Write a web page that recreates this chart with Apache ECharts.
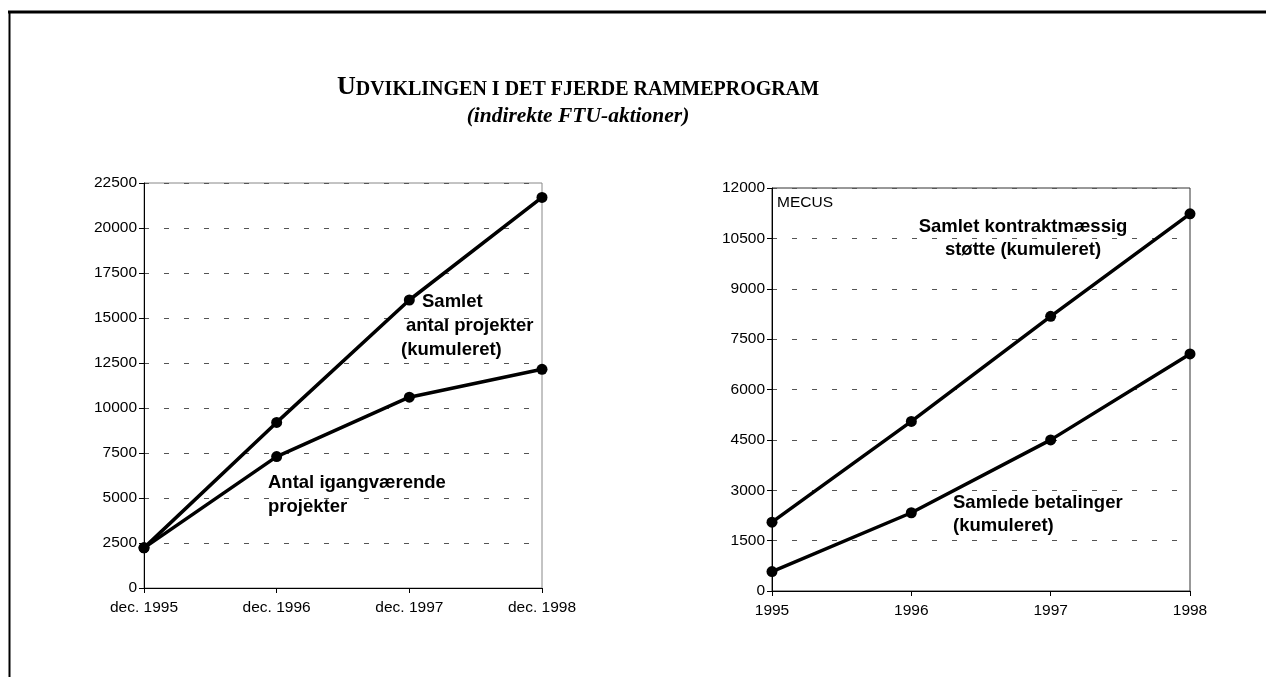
<!DOCTYPE html>
<html>
<head>
<meta charset="utf-8">
<title>Udviklingen i det fjerde rammeprogram</title>
<script src="https://cdn.jsdelivr.net/npm/echarts@6/dist/echarts.min.js"></script>
<style>
html, body {
  margin: 0;
  padding: 0;
  background: #fff;
}
#chart {
  width: 1266px;
  height: 677px;
}
</style>
</head>
<body>
<div id="chart"></div>
<script>
// venstre diagram: antal projekter
const leftCategories = ['dec. 1995', 'dec. 1996', 'dec. 1997', 'dec. 1998']
const samletAntal = [2230, 9200, 16000, 21700]
const igangvaerende = [2230, 7300, 10600, 12150]
const leftTicks = [0, 2500, 5000, 7500, 10000, 12500, 15000, 17500, 20000, 22500]

// hoejre diagram: MECUS
const rightCategories = ['1995', '1996', '1997', '1998']
const kontraktStotte = [2050, 5050, 8180, 11230]
const betalinger = [580, 2330, 4500, 7060]
const rightTicks = [0, 1500, 3000, 4500, 6000, 7500, 9000, 10500, 12000]

const sans = 'Liberation Sans, Arial, sans-serif'
const serif = 'Liberation Serif, Times New Roman, serif'

function xAxisFor(idx, cats) {
  return {
    type: 'category',
    gridIndex: idx,
    data: cats,
    boundaryGap: false,
    axisLine: { lineStyle: { color: '#000', width: 1 } },
    axisTick: { show: true, length: 5, lineStyle: { color: '#000' } },
    axisLabel: { color: '#000', fontFamily: sans, fontSize: 15.5, margin: 12, interval: 0 },
    splitLine: { show: false }
  }
}

function yAxisFor(idx, ticks) {
  return {
    type: 'value',
    gridIndex: idx,
    min: ticks[0],
    max: ticks[ticks.length - 1],
    interval: ticks[1] - ticks[0],
    axisLine: { show: true, lineStyle: { color: '#000', width: 1 } },
    axisTick: { show: true, length: 5, lineStyle: { color: '#000' } },
    axisLabel: {
      color: '#000',
      fontFamily: sans,
      fontSize: 15.5,
      margin: 7,
      formatter: (v) => String(v) // ingen tusindtalsseparator
    },
    splitLine: {
      show: true,
      lineStyle: { color: '#555', width: 1, type: [5, 15] }
    }
  }
}

function lineSeries(idx, data) {
  return {
    type: 'line',
    xAxisIndex: idx,
    yAxisIndex: idx,
    data: data,
    symbol: 'circle',
    symbolSize: 11,
    lineStyle: { color: '#000', width: 3.5 },
    itemStyle: { color: '#000' },
    silent: true,
    animation: false
  }
}

function note(x, y, text, align) {
  return {
    type: 'text',
    x: x,
    y: y,
    silent: true,
    style: {
      text: text,
      fill: '#000',
      font: 'bold 18.5px ' + sans,
      textAlign: align || 'left',
      textVerticalAlign: 'middle'
    }
  }
}

const myChart = echarts.init(document.getElementById('chart'), null, { renderer: 'canvas' })

const option = {
  backgroundColor: '#fff',
  animation: false,
  grid: [
    { left: 144, top: 183, width: 398, height: 405, show: true, borderColor: '#888', borderWidth: 1 },
    { left: 772, top: 188, width: 418, height: 403, show: true, borderColor: '#333', borderWidth: 1 }
  ],
  xAxis: [xAxisFor(0, leftCategories), xAxisFor(1, rightCategories)],
  yAxis: [yAxisFor(0, leftTicks), yAxisFor(1, rightTicks)],
  series: [
    lineSeries(0, samletAntal),
    lineSeries(0, igangvaerende),
    lineSeries(1, kontraktStotte),
    lineSeries(1, betalinger)
  ],
  graphic: [
    // ramme
    { type: 'line', shape: { x1: 8, y1: 12, x2: 1266, y2: 12 }, style: { stroke: '#000', lineWidth: 3 } },
    { type: 'line', shape: { x1: 9.5, y1: 11, x2: 9.5, y2: 677 }, style: { stroke: '#000', lineWidth: 2 } },
    // overskrift
    {
      type: 'text',
      x: 578,
      y: 87,
      style: {
        text: '{a|U}{b|DVIKLINGEN I DET FJERDE RAMMEPROGRAM}',
        textAlign: 'center',
        textVerticalAlign: 'middle',
        fill: '#000',
        rich: {
          a: { fontFamily: serif, fontWeight: 'bold', fontSize: 26, verticalAlign: 'bottom', lineHeight: 26 },
          b: { fontFamily: serif, fontWeight: 'bold', fontSize: 20, verticalAlign: 'bottom', lineHeight: 22 }
        }
      }
    },
    {
      type: 'text',
      x: 578,
      y: 116,
      style: {
        text: '(indirekte FTU-aktioner)',
        textAlign: 'center',
        textVerticalAlign: 'middle',
        fill: '#000',
        font: 'italic bold 21.5px ' + serif
      }
    },
    // tekster i venstre diagram
    note(422, 302, 'Samlet'),
    note(406, 326, 'antal projekter'),
    note(401, 350, '(kumuleret)'),
    note(268, 483, 'Antal igangværende'),
    note(268, 507, 'projekter'),
    // tekster i hoejre diagram
    {
      type: 'text', x: 777, y: 203, silent: true,
      style: { text: 'MECUS', fill: '#000', font: '15.5px ' + sans, textVerticalAlign: 'middle' }
    },
    note(1023, 227, 'Samlet kontraktmæssig', 'center'),
    note(1023, 250, 'støtte (kumuleret)', 'center'),
    note(953, 503, 'Samlede betalinger'),
    note(953, 526, '(kumuleret)')
  ]
}

myChart.setOption(option)
</script>
</body>
</html>
